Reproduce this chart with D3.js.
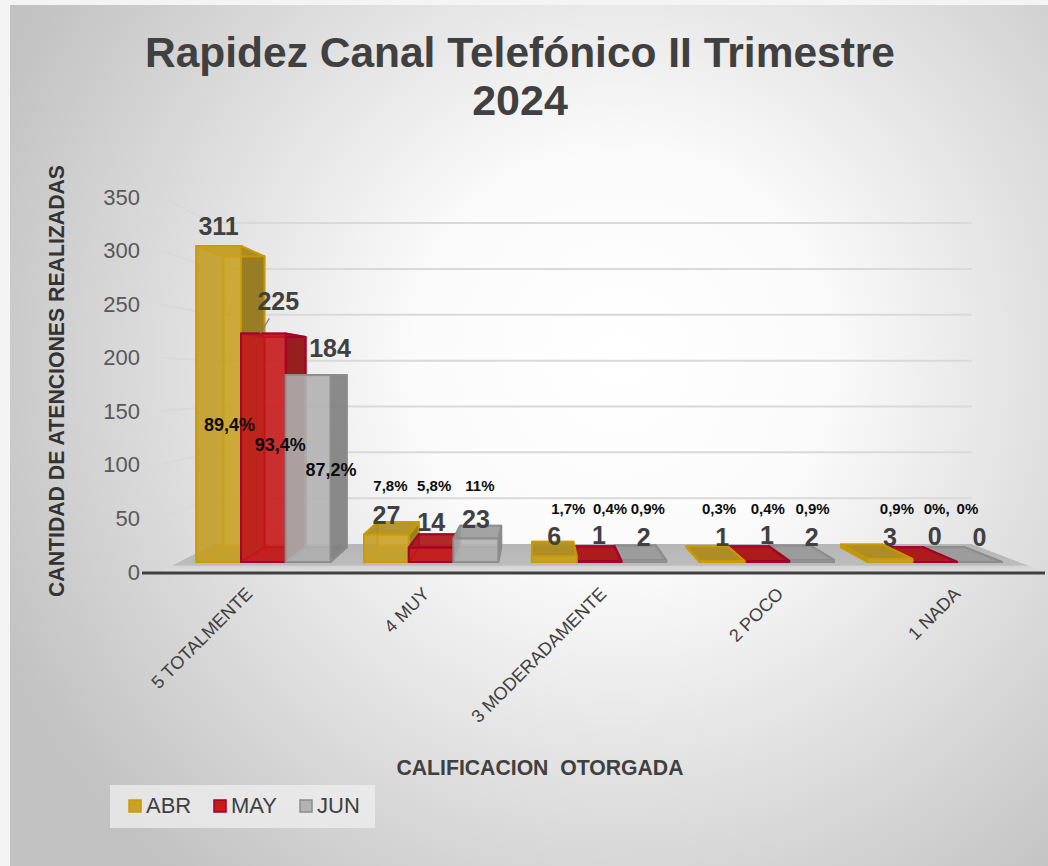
<!DOCTYPE html>
<html>
<head>
<meta charset="utf-8">
<script src="https://cdn.jsdelivr.net/npm/d3@7/dist/d3.min.js"></script>
<style>
  body { margin: 0; background: #f4f4f4; }
  svg { display: block; font-family: "Liberation Sans", Arial, sans-serif; }
</style>
</head>
<body>
<svg id="chart" width="1048" height="866"></svg>
<script>
// data
const categories = ["5 TOTALMENTE", "4 MUY", "3 MODERADAMENTE", "2 POCO", "1 NADA"];
const seriesNames = ["ABR", "MAY", "JUN"];
const abrValues = [311, 27, 6, 1, 3];
const mayValues = [225, 14, 1, 1, 0];
const junValues = [184, 23, 2, 2, 0];
const abrPct = ["89,4%", "7,8%", "1,7%", "0,3%", "0,9%"];
const mayPct = ["93,4%", "5,8%", "0,4%", "0,4%", "0%,"];
const junPct = ["87,2%", "11%", "0,9%", "0,9%", "0%"];
const yTicks = [0, 50, 100, 150, 200, 250, 300, 350];

const seriesValues = [abrValues, mayValues, junValues];
const seriesPct = [abrPct, mayPct, junPct];
const fills = ["#c9a227", "#c81b1b", "#b3b3b3"];
const strokes = ["#c99b00", "#a3002d", "#8c8c8c"];

const svg = d3.select("#chart");
const defs = svg.append("defs");

// background panel
const bg = defs.append("radialGradient").attr("id", "bg")
  .attr("gradientUnits", "userSpaceOnUse")
  .attr("cx", 620).attr("cy", 360).attr("r", 680);
bg.append("stop").attr("offset", "0").attr("stop-color", "#ffffff");
bg.append("stop").attr("offset", "0.3").attr("stop-color", "#fbfbfb");
bg.append("stop").attr("offset", "1").attr("stop-color", "#c2c2c2");
svg.append("rect").attr("x", 10).attr("y", 5).attr("width", 1038).attr("height", 861)
  .attr("fill", "url(#bg)");

// scales (front plane) + simple perspective to the back wall
const y = d3.scaleLinear().domain([0, 350]).range([572, 197]);
const x = d3.scaleBand().domain(categories).range([160, 1045]).paddingInner(0.2).paddingOuter(0.1);
const xs = d3.scaleBand().domain(seriesNames).range([0, x.bandwidth()]);

const vp = [535, 378];
const persp = 0.168;
const barDepth = [0.325, 0.87];

function proj(px, py, d) {
  const k = 1 / (1 + persp * d);
  return [vp[0] + k * (px - vp[0]), vp[1] + k * (py - vp[1])];
}
function poly(pts) {
  return "M" + pts.map(p => p[0].toFixed(1) + "," + p[1].toFixed(1)).join("L") + "Z";
}

// gridlines: side wall + back wall
const x0 = x.range()[0], x1 = x.range()[1];
const grid = svg.append("g");
yTicks.filter(t => t > 0).forEach(t => {
  const a = proj(x0, y(t), 0), b = proj(x0, y(t), 1), c = proj(x1, y(t), 1);
  grid.append("path")
    .attr("d", "M" + a + "L" + b + "L" + c)
    .attr("fill", "none").attr("stroke", "#d9d9d9").attr("stroke-width", 2);
});

// floor
const floorGrad = defs.append("linearGradient").attr("id", "floor")
  .attr("x1", 0).attr("y1", 0).attr("x2", 0).attr("y2", 1);
floorGrad.append("stop").attr("offset", "0").attr("stop-color", "#b6b6b6");
floorGrad.append("stop").attr("offset", "0.75").attr("stop-color", "#bcbcbc");
floorGrad.append("stop").attr("offset", "0.8").attr("stop-color", "#d4d4d4");
floorGrad.append("stop").attr("offset", "1").attr("stop-color", "#dedede");
svg.append("path")
  .attr("d", poly([proj(x0, y(0), 0), proj(x1, y(0), 0), proj(x1, y(0), 1), proj(x0, y(0), 1)]))
  .attr("fill", "url(#floor)");
svg.append("line")
  .attr("x1", 142).attr("x2", x1).attr("y1", y(0) + 1).attr("y2", y(0) + 1)
  .attr("stroke", "#404040").attr("stroke-width", 3);

// y axis labels
const yAxis = svg.append("g").attr("transform", "translate(142,0)")
  .call(d3.axisLeft(y).tickValues(yTicks).tickSize(0).tickPadding(2));
yAxis.select(".domain").remove();
yAxis.selectAll("text")
  .attr("font-size", 22).attr("fill", "#595959")
  .attr("font-family", "Liberation Sans, Arial, sans-serif");

// bars
const bars = [];
categories.forEach((cat, ci) => {
  seriesNames.forEach((s, si) => {
    const bx0 = x(cat) + xs(s);
    bars.push({ ci, si, v: seriesValues[si][ci], bx0, bx1: bx0 + xs.bandwidth() });
  });
});
bars.sort((a, b) => Math.abs((b.bx0 + b.bx1) / 2 - vp[0]) - Math.abs((a.bx0 + a.bx1) / 2 - vp[0]));

const barLayer = svg.append("g");
bars.forEach(b => {
  const yb = y(0), yt = y(b.v);
  const [d0, d1] = barDepth;
  const base = d3.color(fills[b.si]);
  const side = base.darker(0.9).formatHex();
  const top = base.darker(0.4).formatHex();
  const g = barLayer.append("g")
    .attr("stroke", strokes[b.si]).attr("stroke-width", 2).attr("stroke-linejoin", "round");
  const faces = [
    { pts: [proj(b.bx0, yt, d1), proj(b.bx1, yt, d1), proj(b.bx1, yb, d1), proj(b.bx0, yb, d1)], fill: fills[b.si], op: 0.55 },
    { pts: [proj(b.bx0, yt, d0), proj(b.bx0, yt, d1), proj(b.bx0, yb, d1), proj(b.bx0, yb, d0)], fill: side, op: 0.5 },
    { pts: [proj(b.bx0, yb, d0), proj(b.bx1, yb, d0), proj(b.bx1, yb, d1), proj(b.bx0, yb, d1)], fill: top, op: 0.8 },
    { pts: [proj(b.bx1, yt, d0), proj(b.bx1, yt, d1), proj(b.bx1, yb, d1), proj(b.bx1, yb, d0)], fill: side, op: 0.9 },
    { pts: [proj(b.bx0, yt, d0), proj(b.bx1, yt, d0), proj(b.bx1, yt, d1), proj(b.bx0, yt, d1)], fill: top, op: 0.85 },
    { pts: [proj(b.bx0, yt, d0), proj(b.bx1, yt, d0), proj(b.bx1, yb, d0), proj(b.bx0, yb, d0)], fill: fills[b.si], op: 0.8 }
  ];
  faces.forEach(f => {
    g.append("path").attr("d", poly(f.pts)).attr("fill", f.fill).attr("fill-opacity", f.op)
      .attr("stroke-opacity", 0.85);
  });
});

// value labels (a couple were dragged in the original)
const valueNudge = { "0-1": [15, -11, true], "0-2": [22, -6, false] };
const valueLift = [11, 17, 11];
const valueFloor = 546;
const pctNudgeX = [[11, 17, 23], [4, 3, 4], [14, 11, 4], [-3, 1, 1], [7, 2, -12]];
const pctBaseline = [[431, 451, 476], [491, 491, 491], [514, 514, 514], [514, 514, 514], [514, 514, 514]];

const labels = svg.append("g");
categories.forEach((cat, ci) => {
  seriesNames.forEach((s, si) => {
    const v = seriesValues[si][ci];
    const cx = x(cat) + xs(s) + xs.bandwidth() / 2;
    const p = proj(cx, y(v), barDepth[0]);
    const n = valueNudge[ci + "-" + si] || [0, 0, false];
    const lx = p[0] + n[0];
    const ly = n[2] || n[1] ? p[1] - 12 + n[1] : Math.min(p[1] - valueLift[si], valueFloor);
    if (n[2]) {
      labels.append("line")
        .attr("x1", p[0] - 3).attr("y1", p[1])
        .attr("x2", lx - 9).attr("y2", ly + 8)
        .attr("stroke", "#7f7f7f").attr("stroke-width", 1.2);
    }
    labels.append("text")
      .attr("x", lx).attr("y", ly)
      .attr("text-anchor", "middle")
      .attr("font-size", 25).attr("font-weight", "bold").attr("fill", "#404040")
      .text(v);
    labels.append("text")
      .attr("x", p[0] + pctNudgeX[ci][si]).attr("y", pctBaseline[ci][si])
      .attr("text-anchor", "middle")
      .attr("font-size", ci === 0 ? 18 : 15).attr("font-weight", "bold").attr("fill", "#0d0d0d")
      .text(seriesPct[si][ci]);
  });
});

// category labels
svg.append("g").selectAll("text")
  .data(categories).join("text")
  .attr("transform", d => "translate(" + (x(d) + x.bandwidth() / 2 + 5) + ",595) rotate(-45)")
  .attr("text-anchor", "end")
  .attr("font-size", 18).attr("fill", "#404040")
  .text(d => d);

// titles
svg.append("text").attr("x", 520).attr("y", 67).attr("text-anchor", "middle")
  .attr("font-size", 43).attr("font-weight", "bold").attr("fill", "#404040")
  .attr("textLength", 750).attr("lengthAdjust", "spacingAndGlyphs")
  .text("Rapidez Canal Telefónico II Trimestre");
svg.append("text").attr("x", 520).attr("y", 115).attr("text-anchor", "middle")
  .attr("font-size", 43).attr("font-weight", "bold").attr("fill", "#404040")
  .text("2024");

svg.append("text").attr("transform", "translate(64,381) rotate(-90)")
  .attr("text-anchor", "middle")
  .attr("font-size", 22).attr("font-weight", "bold").attr("fill", "#333333")
  .attr("textLength", 432).attr("lengthAdjust", "spacingAndGlyphs")
  .text("CANTIDAD DE ATENCIONES REALIZADAS");

svg.append("text").attr("x", 540).attr("y", 775).attr("text-anchor", "middle")
  .attr("font-size", 22).attr("font-weight", "bold").attr("fill", "#404040")
  .attr("textLength", 287).attr("lengthAdjust", "spacingAndGlyphs")
  .attr("xml:space", "preserve")
  .text("CALIFICACION  OTORGADA");

// legend
const legend = svg.append("g");
legend.append("rect").attr("x", 110).attr("y", 785).attr("width", 265).attr("height", 43)
  .attr("fill", "#efefef").attr("fill-opacity", 0.75);
const legendX = [129, 214, 300];
seriesNames.forEach((s, i) => {
  legend.append("rect").attr("x", legendX[i]).attr("y", 800).attr("width", 12).attr("height", 12)
    .attr("fill", fills[i]).attr("stroke", strokes[i]).attr("stroke-width", 1.5);
  legend.append("text").attr("x", legendX[i] + 17).attr("y", 813)
    .attr("font-size", 22).attr("fill", "#404040")
    .text(s);
});
</script>
</body>
</html>
